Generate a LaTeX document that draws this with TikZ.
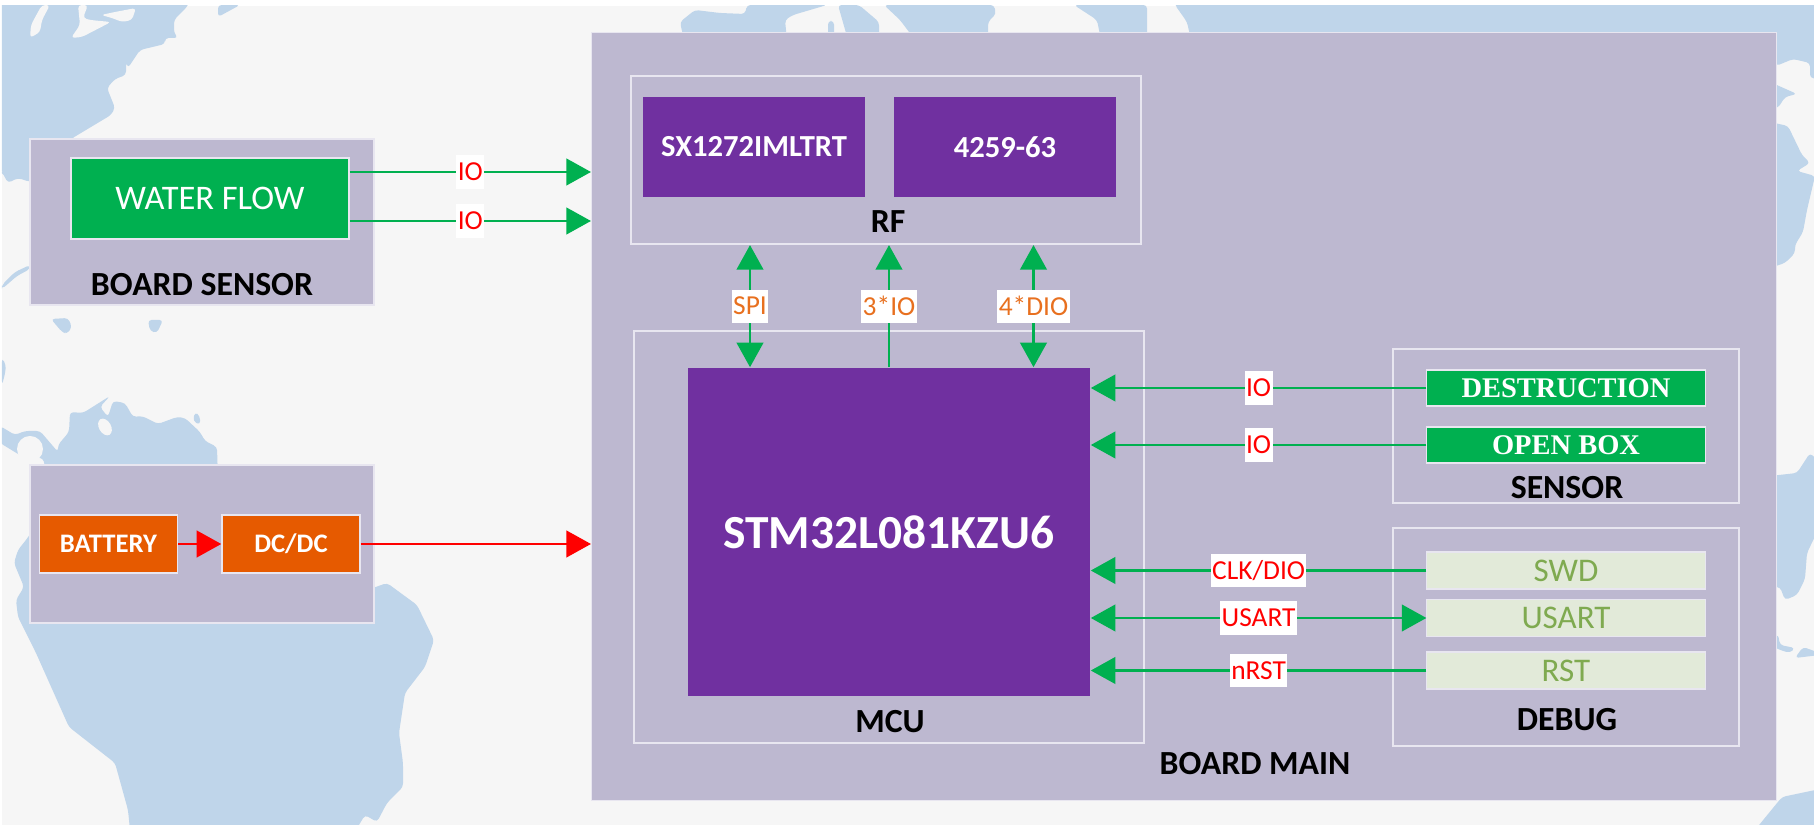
\documentclass[tikz,border=0pt]{standalone}
\usepackage{fontspec}
\setmainfont{Carlito}
\newfontfamily\serifbox{Liberation Serif}
\usetikzlibrary{arrows.meta}

\definecolor{paper}{HTML}{F6F6F6}
\definecolor{sea}{HTML}{BFD5EA}
\definecolor{board}{HTML}{BDB8D0}
\definecolor{edge}{HTML}{E8E6F0}
\definecolor{chip}{HTML}{7030A0}
\definecolor{leaf}{HTML}{00B050}
\definecolor{power}{HTML}{E65A00}
\definecolor{pale}{HTML}{E2EAD9}
\definecolor{paletext}{HTML}{7FAA50}
\definecolor{busorange}{HTML}{E8701F}

\begin{document}
\begin{tikzpicture}[
        x=0.01cm, y=-0.01cm,
        % Style for the map shapes behind the boards
        land/.style={fill=sea, rounded corners=1pt},
        hole/.style={fill=paper, rounded corners=1pt},
        % Styles for the boxes
        boardbox/.style={rectangle, draw=edge, line width=0.4pt, fill=board, inner sep=0pt},
        frame/.style={rectangle, draw=edge, line width=0.6pt, inner sep=0pt},
        chipbox/.style={rectangle, fill=chip, text=white, inner sep=0pt, font=\bfseries\fontsize{8.7pt}{10pt}\selectfont, minimum width=2.22cm, minimum height=1cm},
        sensorbox/.style={rectangle, draw=edge, line width=0.3pt, fill=leaf, text=white, inner sep=0pt, font=\serifbox\bfseries\fontsize{8.1pt}{10pt}\selectfont, minimum width=2.78cm, minimum height=0.36cm},
        debugbox/.style={rectangle, draw=edge, line width=0.3pt, fill=pale, text=paletext, inner sep=0pt, font=\fontsize{9.4pt}{11pt}\selectfont, minimum width=2.78cm, minimum height=0.37cm},
        powerbox/.style={rectangle, draw=edge, line width=0.4pt, fill=power, text=white, inner sep=0pt, font=\bfseries\fontsize{7.6pt}{9pt}\selectfont, minimum width=1.38cm, minimum height=0.58cm},
        title/.style={font=\bfseries\fontsize{9.6pt}{11pt}\selectfont, text=black},
        % Styles for the connectors and their labels
        sig/.style={draw=leaf, line width=0.6pt, {Triangle[length=7pt,width=7.6pt]}-{Triangle[length=7pt,width=7.6pt]}},
        supply/.style={draw=red, line width=0.6pt},
        tag/.style={fill=white, text=red, inner xsep=0.4pt, inner ysep=0pt, minimum height=0.33cm, font=\fontsize{7.8pt}{9pt}\selectfont},
        bustag/.style={tag, text=busorange}
    ]

        \useasboundingbox (0,0) rectangle (1814,825);

        % 1. Map behind everything
        \fill[paper] (2,6) rectangle (1814,825);
        \begin{scope}
            \clip (2,6) rectangle (1814,825);
            % top left
            \fill[land] (0,0) -- (190,0) -- (187,7) -- (174,20) -- (174,33) -- (178,38) -- (165,38) -- (165,44) -- (140,50) -- (128,68) -- (126,62) -- (126,75) -- (115,79) -- (107,88) -- (115,108) -- (111,115) -- (71,139) -- (71,160) -- (30,182) -- (18,178) -- (8,183) -- (2,172) -- (0,172) -- cycle;
            \fill[hole] (30,38) -- (31,25) -- (38,12) -- (42,5) -- (50,5) -- (42,20) -- (40,32) -- cycle;
            \fill[hole] (71,38) -- (80,25) -- (78,5) -- (88,5) -- (83,18) -- (90,20) -- (111,22) -- (82,37) -- cycle;
            \fill[hole] (101,15) -- (115,12) -- (136,8) -- (132,20) -- (122,22) -- (112,18) -- cycle;
            \fill[land] (218,5) -- (218,17) -- (240,5) -- cycle;
            \fill[land] (2,285) -- (15,272) -- (30,265) -- (30,269) -- (17,276) -- (2,289) -- cycle;
            \fill[land] (51,319) -- (68,318) -- (72,327) -- (67,334) -- (62,332) -- cycle;
            \fill[land] (148,320) -- (163,320) -- (157,333) -- (150,331) -- cycle;
            \fill[land] (2,358) -- (6,365) -- (5,374) -- (2,385) -- cycle;
            % top middle
            \fill[land] (695,10) -- (680,22) -- (684,40) -- (787,40) -- (785,20) -- (793,15) -- (827,5) -- (747,5) -- (745,14) -- (720,13) -- cycle;
            \fill[land] (828,21) -- (834,21) -- (834,40) -- (828,40) -- cycle;
            \fill[land] (838,5) -- (848,40) -- (879,40) -- (879,22) -- (859,5) -- cycle;
            \fill[land] (884,5) -- (900,20) -- (915,40) -- (988,40) -- (988,22) -- (996,14) -- (994,5) -- cycle;
            \fill[land] (1074,5) -- (1097,20) -- (1101,40) -- (1147,40) -- (1147,5) -- cycle;
            \fill[land] (1175,5) -- (1187,22) -- (1191,40) -- (1776,40) -- (1776,66) -- (1793,59) -- (1810,63) -- (1810,78) -- (1820,79) -- (1820,0) -- (1175,0) -- cycle;
            % right side
            \fill[land] (1770,82) -- (1797,94) -- (1785,97) -- (1778,108) -- (1770,108) -- cycle;
            \fill[land] (1770,122) -- (1788,126) -- (1802,155) -- (1810,163) -- (1797,171) -- (1815,176) -- (1807,210) -- (1803,232) -- (1795,245) -- (1795,253) -- (1785,263) -- (1770,268) -- cycle;
            \fill[land] (1770,476) -- (1797,473) -- (1810,453) -- (1820,463) -- (1820,526) -- (1807,553) -- (1805,579) -- (1797,595) -- (1785,600) -- (1780,587) -- (1770,587) -- cycle;
            \fill[land] (1778,634) -- (1780,645) -- (1795,648) -- (1790,653) -- (1780,650) -- (1770,645) -- cycle;
            \fill[land] (1795,658) -- (1803,647) -- (1820,653) -- (1820,655) -- cycle;
            \fill[land] (1755,830) -- (1782,797) -- (1820,789) -- (1820,830) -- cycle;
            % bottom left
            \fill[land] (0,426) -- (15,435) -- (25,431) -- (40,431) -- (58,452) -- (58,445) -- (69,432) -- (70,412) -- (83,413) -- (110,396) -- (100,407) -- (108,417) -- (113,401) -- (125,403) -- (133,417) -- (142,416) -- (158,424) -- (177,417) -- (185,418) -- (200,432) -- (205,441) -- (217,447) -- (218,480) -- (48,480) -- (43,458) -- (23,457) -- (0,443) -- cycle;
            \fill[paper] (30,449) circle (13);
            \fill[paper, rotate around={30:(105,427)}] (105,427) ellipse (6 and 9);
            \fill[land] (195,412) -- (200,416) -- (200,425) -- (193,421) -- cycle;
            \fill[land] (40,520) -- (26,540) -- (18,550) -- (14,563) -- (24,587) -- (16,600) -- (18,617) -- (36,653) -- (69,727) -- (115,763) -- (128,810) -- (130,830) -- (356,830) -- (365,815) -- (377,822) -- (387,803) -- (403,787) -- (403,763) -- (399,733) -- (405,693) -- (425,667) -- (434,640) -- (417,605) -- (387,583) -- (370,589) -- cycle;
        \end{scope}

        % 2. Boards and frames
        \node[boardbox, minimum width=3.44cm, minimum height=1.66cm] (sensorboard) at (202,222) {};
        \node[boardbox, minimum width=3.44cm, minimum height=1.58cm] (powerboard) at (202,544) {};
        \node[boardbox, minimum width=11.84cm, minimum height=7.67cm] (main) at (1184,416.5) {};
        \node[frame, minimum width=5.1cm, minimum height=1.68cm] (rf) at (886,160) {};
        \node[frame, minimum width=5.1cm, minimum height=4.12cm] (mcu) at (889,537) {};
        \node[frame, minimum width=3.45cm, minimum height=1.54cm] (sensor) at (1566,426) {};
        \node[frame, minimum width=3.45cm, minimum height=2.18cm] (debug) at (1566,637) {};

        % 3. Blocks inside the boards
        \node[rectangle, draw=edge, line width=0.4pt, fill=leaf, text=white, inner sep=0pt, font=\fontsize{9.8pt}{11pt}\selectfont, minimum width=2.78cm, minimum height=0.81cm] (water) at (210,198.5) {WATER FLOW};
        \node[powerbox] (battery) at (108.5,544) {BATTERY};
        \node[powerbox] (dcdc) at (291,544) {DC/DC};
        \node[chipbox] (sx) at (754,147) {SX1272IMLTRT};
        \node[chipbox] (ant) at (1005,147) {4259-63};
        \node[rectangle, fill=chip, text=white, inner sep=0pt, font=\bfseries\fontsize{13.5pt}{16pt}\selectfont, minimum width=4.02cm, minimum height=3.28cm] (stm) at (889,532) {STM32L081KZU6};
        \node[sensorbox] (destruction) at (1566,388) {DESTRUCTION};
        \node[sensorbox] (openbox) at (1566,445) {OPEN BOX};
        \node[debugbox] (swd) at (1566,570.5) {SWD};
        \node[debugbox] (usart) at (1566,618) {USART};
        \node[debugbox] (rst) at (1566,670.5) {RST};

        % 4. Titles
        \node[title] (sensorboardname) at (202,285) {BOARD SENSOR};
        \node[title] (rfname) at (888,222) {RF};
        \node[title] (mcuname) at (890,722) {MCU};
        \node[title] (sensorname) at (1567,488) {SENSOR};
        \node[title] (debugname) at (1567,720) {DEBUG};
        \node[title] (mainname) at (1255,764) {BOARD MAIN};

        % 5. Levels and columns for the connectors
        \coordinate (w1) at (0,172);
        \coordinate (w2) at (0,221);
        \coordinate (bus1) at (750,0);
        \coordinate (bus2) at (889,0);
        \coordinate (bus3) at (1033.5,0);

        % 6. Connectors
        \draw[sig, {-Triangle[length=7pt,width=7.6pt]}] (water.east |- w1) -- node[tag] {IO} (main.west |- w1);
        \draw[sig, {-Triangle[length=7pt,width=7.6pt]}] (water.east |- w2) -- node[tag] {IO} (main.west |- w2);
        \draw[supply, {-Triangle[length=7pt,width=7.6pt]}] (battery) -- (dcdc);
        \draw[supply, {-Triangle[length=7pt,width=7.6pt]}] (dcdc) -- (main.west |- dcdc);
        \draw[sig] (rf.south -| bus1) -- node[bustag] {SPI} (stm.north -| bus1);
        \draw[sig, {-Triangle[length=7pt,width=7.6pt]}] (stm.north -| bus2) -- node[bustag] {3*IO} (rf.south -| bus2);
        \draw[sig] (rf.south -| bus3) -- node[bustag] {4*DIO} (stm.north -| bus3);
        \draw[sig, {-Triangle[length=7pt,width=7.6pt]}] (destruction.west) -- node[tag] {IO} (stm.east |- destruction);
        \draw[sig, {-Triangle[length=7pt,width=7.6pt]}] (openbox.west) -- node[tag] {IO} (stm.east |- openbox);
        \draw[sig, {-Triangle[length=7pt,width=7.6pt]}] (swd.west) -- node[tag] {CLK/DIO} (stm.east |- swd);
        \draw[sig] (usart.west) -- node[tag] {USART} (stm.east |- usart);
        \draw[sig, {-Triangle[length=7pt,width=7.6pt]}] (rst.west) -- node[tag] {nRST} (stm.east |- rst);

    \end{tikzpicture}
\end{document}
